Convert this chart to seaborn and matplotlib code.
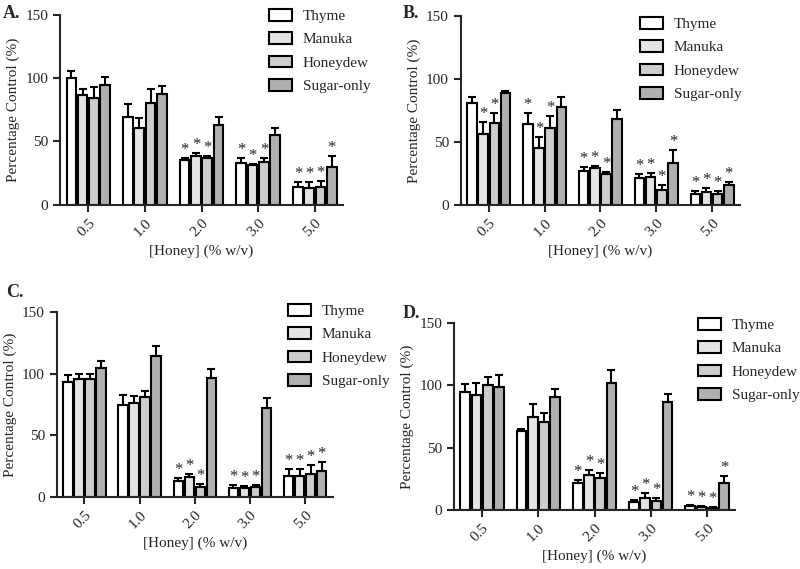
import matplotlib
matplotlib.use("Agg")
import matplotlib.pyplot as plt
import seaborn as sns
import pandas as pd

sns.set_style("ticks")
plt.rcParams['font.family'] = ['Liberation Serif', 'DejaVu Serif']

concs = ["0.5", "1.0", "2.0", "3.0", "5.0"]
honeys = ["Thyme", "Manuka", "Honeydew", "Sugar-only"]
colors = ["#ffffff", "#e4e4e4", "#cdcdcd", "#b0b0b0"]

# mean values per honey (rows) across concentrations
a_mean = [[100, 69.7, 35.3, 33.4, 13.7],
          [86.8, 60.5, 38.2, 31.6, 13.2],
          [84.2, 80.3, 36.6, 33.9, 13.7],
          [94.5, 87.4, 62.9, 55.0, 29.5]]
a_err = [[5.8, 10.0, 1.3, 3.4, 4.7],
         [4.5, 7.9, 2.6, 0.5, 5.2],
         [9.2, 11.3, 1.6, 2.9, 5.2],
         [6.3, 6.6, 6.8, 5.5, 8.7]]
a_star = [[0, 0, 1, 1, 1], [0, 0, 1, 1, 1], [0, 0, 1, 1, 1], [0, 0, 0, 0, 1]]

b_mean = [[80.7, 64.0, 27.0, 21.2, 8.7],
          [56.1, 45.0, 29.1, 22.5, 10.0],
          [65.3, 60.8, 24.6, 11.9, 8.7],
          [88.6, 78.0, 68.0, 33.0, 15.9]]
b_err = [[4.7, 9.3, 2.9, 3.4, 2.4],
         [10.0, 9.2, 1.9, 2.6, 3.0],
         [7.5, 9.8, 1.6, 3.7, 2.1],
         [2.1, 8.0, 7.4, 10.7, 2.6]]
b_star = [[0, 1, 1, 1, 1], [1, 1, 1, 1, 1], [1, 1, 1, 1, 1], [0, 0, 0, 1, 1]]

c_mean = [[93.0, 74.9, 12.7, 7.3, 17.3],
          [95.7, 76.2, 16.2, 7.3, 17.3],
          [95.7, 81.0, 8.1, 8.1, 18.9],
          [104.6, 114.0, 96.5, 72.2, 20.8]]
c_err = [[6.2, 7.5, 2.7, 2.7, 5.7],
         [4.3, 5.4, 2.7, 1.9, 5.7],
         [4.3, 4.7, 2.4, 1.9, 7.3],
         [5.4, 8.0, 7.5, 8.1, 7.3]]
c_star = [[0, 0, 1, 1, 1], [0, 0, 1, 1, 1], [0, 0, 1, 1, 1], [0, 0, 0, 0, 1]]

d_mean = [[95.1, 63.5, 21.4, 6.7, 3.2],
          [92.4, 75.0, 28.1, 9.4, 2.7],
          [100.4, 71.0, 25.4, 7.5, 1.6],
          [99.1, 91.0, 101.8, 87.0, 21.4]]
d_err = [[5.9, 1.6, 2.7, 1.3, 0.8],
         [9.9, 9.9, 4.0, 4.0, 0.8],
         [6.2, 6.7, 4.1, 1.9, 0.5],
         [9.4, 6.5, 10.7, 6.0, 5.9]]
d_star = [[0, 0, 1, 1, 1], [0, 0, 1, 1, 1], [0, 0, 1, 1, 1], [0, 0, 0, 0, 1]]

# letter, data, axes rect, legend anchor (px), letter position (px)
panels = [
    ("A.", a_mean, a_err, a_star, [0.075, 0.640, 0.354, 0.334], (269, 9), (3, 13)),
    ("B.", b_mean, b_err, b_star, [0.576, 0.640, 0.349, 0.332], (640, 17), (403, 14)),
    ("C.", c_mean, c_err, c_star, [0.071, 0.1265, 0.345, 0.3255], (288, 304), (6, 293)),
    ("D.", d_mean, d_err, d_star, [0.5675, 0.1037, 0.3515, 0.3283], (698, 318), (403, 314)),
]

fig = plt.figure(figsize=(8, 5.69), dpi=100)
W, H = 800, 569
FS = 11

for letter, mean, err, star, rect, leg_xy, let_xy in panels:
    ax = fig.add_axes(rect)
    rows = []
    for i, h in enumerate(honeys):
        for j, c in enumerate(concs):
            rows.append({"conc": c, "honey": h, "val": mean[i][j]})
    df = pd.DataFrame(rows)
    sns.barplot(data=df, x="conc", y="val", hue="honey", order=concs,
                hue_order=honeys, palette=colors, errorbar=None, gap=0.15,
                edgecolor="black", linewidth=1.5, saturation=1, ax=ax)
    # bars come in hue order, each over the concentrations
    bars = ax.patches[:20]
    for k, p in enumerate(bars):
        i, j = divmod(k, 5)
        xc = p.get_x() + p.get_width() / 2
        top = p.get_height()
        e = err[i][j]
        ax.errorbar(xc, top, yerr=[[0], [e]], fmt="none", ecolor="black",
                    elinewidth=1.5, capsize=3, capthick=1.5, zorder=1)
        if star[i][j]:
            ax.annotate("*", (xc, top + e), xytext=(0, 0),
                        textcoords="offset points", ha="center", va="bottom",
                        fontsize=12)
    ax.set_xlim(-0.5, 4.5)
    ax.set_ylim(0, 150)
    ax.set_yticks([0, 50, 100, 150])
    ax.set_xlabel("[Honey] (% w/v)", fontsize=FS)
    ax.set_ylabel("Percentage Control (%)", fontsize=FS)
    ax.tick_params(axis="both", labelsize=FS, width=1.5, length=5, direction="out")
    for lab in ax.get_xticklabels():
        lab.set_rotation(45)
        lab.set_ha("right")
        lab.set_rotation_mode("anchor")
    sns.despine(ax=ax)
    for s in ["left", "bottom"]:
        ax.spines[s].set_linewidth(1.5)
    ax.legend_.remove()
    handles = [plt.Rectangle((0, 0), 1, 1, facecolor=col, edgecolor="black",
                             linewidth=1.5) for col in colors]
    fig.legend(handles, honeys, loc="upper left",
               bbox_to_anchor=(leg_xy[0] / W, 1 - leg_xy[1] / H),
               bbox_transform=fig.transFigure, frameon=False, fontsize=FS,
               borderpad=0, borderaxespad=0, handlelength=1.5,
               handleheight=0.8, handletextpad=0.7, labelspacing=0.6)
    fig.text(let_xy[0] / W, 1 - let_xy[1] / H, letter,
             fontsize=13, fontweight="bold", va="center")

fig.savefig("out.png", dpi=100)
